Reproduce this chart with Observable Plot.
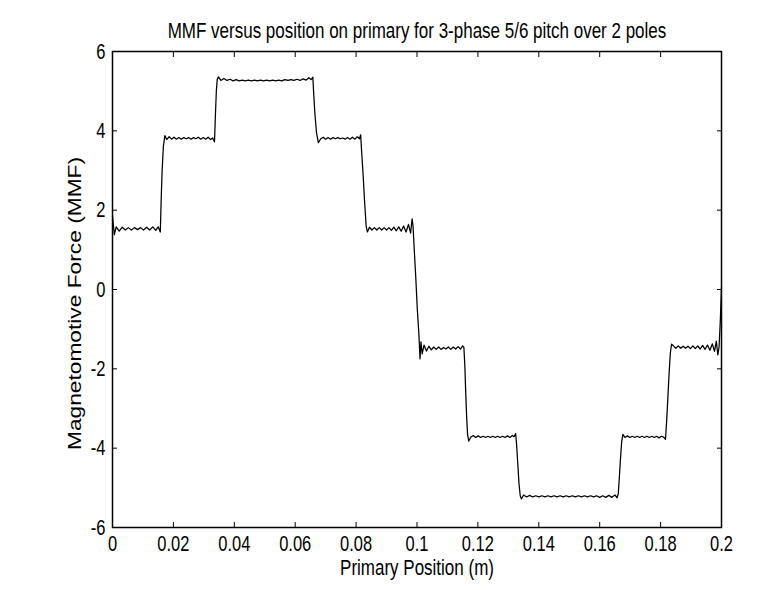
<!DOCTYPE html>
<html>
<head>
<meta charset="utf-8">
<script src="https://cdn.jsdelivr.net/npm/d3@7"></script>
<script src="https://cdn.jsdelivr.net/npm/@observablehq/plot@0.6"></script>
<style>
  html, body { margin: 0; padding: 0; background: #fff; }
  #chart { width: 778px; height: 590px; }
</style>
</head>
<body>
<div id="chart"></div>
<script>
const chartTitle = "MMF versus position on primary for 3-phase 5/6 pitch over 2 poles";
const xLabel = "Primary Position (m)";
const yLabel = "Magnetomotive Force (MMF)";

const xTicks = [0, 0.02, 0.04, 0.06, 0.08, 0.1, 0.12, 0.14, 0.16, 0.18, 0.2];
const yTicks = [-6, -4, -2, 0, 2, 4, 6];

// [position (m), MMF]
const mmfTrace = [
  [0,1.85],[0.0006,1.38],[0.0012,1.58],[0.0022,1.47],[0.0032,1.57],[0.0042,1.5],[0.0052,1.56],[0.0062,1.5],[0.0072,1.56],[0.0082,1.51],
  [0.0092,1.56],[0.0102,1.5],[0.0112,1.57],[0.0122,1.5],[0.0132,1.58],[0.0142,1.49],[0.0150,1.58],[0.0157,1.45],
  [0.0160,2.3],[0.0163,3.0],[0.0167,3.6],[0.0172,3.88],
  [0.0178,3.78],[0.0186,3.85],[0.0194,3.79],[0.0202,3.84],[0.0210,3.79],[0.0218,3.83],[0.0226,3.79],[0.0234,3.83],[0.0242,3.8],[0.0250,3.83],
  [0.0258,3.79],[0.0266,3.83],[0.0274,3.8],[0.0282,3.84],[0.0290,3.79],[0.0298,3.83],[0.0306,3.79],[0.0314,3.84],[0.0322,3.78],[0.0329,3.82],[0.0335,3.72],
  [0.0338,4.4],[0.0341,5.0],[0.0344,5.3],[0.0348,5.36],
  [0.0356,5.27],[0.0366,5.32],[0.0376,5.27],[0.0386,5.3],[0.0396,5.26],[0.0406,5.29],[0.0416,5.26],[0.0426,5.28],[0.0436,5.26],[0.0446,5.28],
  [0.0456,5.26],[0.0466,5.28],[0.0476,5.26],[0.0486,5.28],[0.0496,5.26],[0.0506,5.28],[0.0516,5.26],[0.0526,5.28],[0.0536,5.26],[0.0546,5.28],
  [0.0556,5.26],[0.0566,5.29],[0.0576,5.27],[0.0586,5.29],[0.0596,5.27],[0.0606,5.3],[0.0616,5.27],[0.0626,5.31],[0.0636,5.28],[0.0645,5.34],
  [0.0652,5.29],[0.0658,5.35],
  [0.0661,4.9],[0.0665,4.4],[0.0670,3.95],[0.0676,3.7],
  [0.0684,3.8],[0.0692,3.84],[0.0700,3.79],[0.0708,3.83],[0.0716,3.79],[0.0724,3.83],[0.0732,3.8],[0.0740,3.83],[0.0748,3.8],[0.0756,3.82],
  [0.0764,3.79],[0.0772,3.83],[0.0780,3.79],[0.0788,3.84],[0.0796,3.79],[0.0804,3.85],[0.0811,3.8],[0.0815,3.9],
  [0.0818,3.5],[0.0823,2.9],[0.0828,2.2],[0.0833,1.6],[0.0837,1.45],
  [0.0844,1.57],[0.0852,1.5],[0.0860,1.56],[0.0868,1.5],[0.0876,1.56],[0.0884,1.5],[0.0892,1.56],[0.0900,1.5],[0.0908,1.56],[0.0916,1.49],
  [0.0924,1.57],[0.0932,1.48],[0.0940,1.58],[0.0948,1.47],[0.0956,1.6],[0.0964,1.45],[0.0972,1.64],[0.0979,1.42],[0.0984,1.78],[0.0987,1.6],
  [0.0991,1.0],[0.0996,0.3],[0.1001,-0.5],[0.1006,-1.1],[0.1010,-1.75],
  [0.1013,-1.32],[0.1017,-1.62],[0.1023,-1.4],[0.1031,-1.55],[0.1039,-1.43],[0.1047,-1.52],[0.1055,-1.45],[0.1063,-1.51],[0.1071,-1.45],[0.1079,-1.51],
  [0.1087,-1.46],[0.1095,-1.5],[0.1103,-1.45],[0.1111,-1.51],[0.1119,-1.45],[0.1127,-1.5],[0.1135,-1.44],[0.1143,-1.5],[0.1150,-1.42],[0.1154,-1.46],
  [0.1157,-1.9],[0.1160,-2.6],[0.1163,-3.2],[0.1166,-3.65],[0.1170,-3.82],
  [0.1177,-3.72],[0.1185,-3.68],[0.1193,-3.73],[0.1201,-3.69],[0.1209,-3.73],[0.1217,-3.7],[0.1225,-3.73],[0.1233,-3.7],[0.1241,-3.73],[0.1249,-3.7],
  [0.1257,-3.73],[0.1265,-3.7],[0.1273,-3.73],[0.1281,-3.7],[0.1289,-3.73],[0.1297,-3.69],[0.1305,-3.73],[0.1313,-3.68],[0.1319,-3.71],[0.1324,-3.63],
  [0.1327,-3.9],[0.1331,-4.4],[0.1335,-4.9],[0.1339,-5.2],[0.1343,-5.28],
  [0.1350,-5.18],[0.1360,-5.23],[0.1370,-5.19],[0.1380,-5.23],[0.1390,-5.2],[0.1400,-5.23],[0.1410,-5.2],[0.1420,-5.23],[0.1430,-5.2],[0.1440,-5.23],
  [0.1450,-5.2],[0.1460,-5.23],[0.1470,-5.2],[0.1480,-5.23],[0.1490,-5.2],[0.1500,-5.23],[0.1510,-5.2],[0.1520,-5.23],[0.1530,-5.2],[0.1540,-5.23],
  [0.1550,-5.2],[0.1560,-5.23],[0.1570,-5.2],[0.1580,-5.23],[0.1590,-5.2],[0.1600,-5.24],[0.1610,-5.2],[0.1620,-5.24],[0.1630,-5.19],[0.1640,-5.24],
  [0.1650,-5.18],[0.1657,-5.25],[0.1661,-5.15],
  [0.1664,-4.8],[0.1668,-4.3],[0.1672,-3.85],[0.1676,-3.65],
  [0.1683,-3.73],[0.1691,-3.69],[0.1699,-3.73],[0.1707,-3.7],[0.1715,-3.73],[0.1723,-3.7],[0.1731,-3.73],[0.1739,-3.7],[0.1747,-3.73],[0.1755,-3.7],
  [0.1763,-3.73],[0.1771,-3.7],[0.1779,-3.73],[0.1787,-3.7],[0.1795,-3.74],[0.1803,-3.7],[0.1810,-3.72],[0.1816,-3.78],
  [0.1820,-3.3],[0.1824,-2.7],[0.1828,-2.1],[0.1832,-1.6],[0.1836,-1.38],
  [0.1842,-1.42],[0.1850,-1.48],[0.1858,-1.42],[0.1866,-1.48],[0.1874,-1.43],[0.1882,-1.48],[0.1890,-1.43],[0.1898,-1.49],[0.1906,-1.42],[0.1914,-1.49],
  [0.1922,-1.42],[0.1930,-1.5],[0.1938,-1.41],[0.1946,-1.51],[0.1954,-1.4],[0.1962,-1.53],[0.1970,-1.37],[0.1977,-1.56],[0.1983,-1.3],[0.1988,-1.65],
  [0.1992,-1.45],[0.1996,-0.8],[0.2,0.05]
];

const font = '"Liberation Sans", Arial, Helvetica, sans-serif';
const stretch = 1.3; // the scanned figure's text is taller than it is wide

const data = mmfTrace.map(([x, y]) => ({x, y}));

const chart = Plot.plot({
  width: 778,
  height: 590,
  marginLeft: 112,
  marginRight: 57,
  marginTop: 51,
  marginBottom: 63,
  style: {fontFamily: font, fontSize: "16.5px", background: "#fff", color: "#000", overflow: "visible"},
  x: {domain: [0, 0.2]},
  y: {domain: [-6, 6]},
  marks: [
    Plot.axisX(xTicks, {anchor: "bottom", tickSize: -5, fill: "none", label: null}),
    Plot.axisX(xTicks, {anchor: "top", tickSize: -5, fill: "none", label: null}),
    Plot.axisY(yTicks, {anchor: "left", tickSize: -5, fill: "none", label: null}),
    Plot.axisY(yTicks, {anchor: "right", tickSize: -5, fill: "none", label: null}),
    Plot.axisX(xTicks, {anchor: "bottom", tickSize: 0, tickPadding: 10, tickFormat: d3.format("~g"), label: null}),
    Plot.axisY(yTicks, {anchor: "left", tickSize: 0, tickPadding: 7, tickFormat: d => String(d), label: null}),
    Plot.line(data, {x: "x", y: "y", stroke: "#000", strokeWidth: 1.25}),
    Plot.frame({stroke: "#000", strokeWidth: 1.5}),
    Plot.text([chartTitle], {frameAnchor: "top", textAnchor: "middle", lineAnchor: "middle", dy: -21, fontSize: 17}),
    Plot.text([xLabel], {frameAnchor: "bottom", textAnchor: "middle", lineAnchor: "middle", dy: 40, fontSize: 17}),
    Plot.text([yLabel], {frameAnchor: "left", textAnchor: "middle", lineAnchor: "middle",
      dx: -37, dy: 14, rotate: -90, fontSize: 17.5})
  ]
});
document.getElementById("chart").appendChild(chart);

// stretch each text along the page's vertical, about its own centre
chart.querySelectorAll("text").forEach(t => {
  const b = t.getBBox();
  const tr = t.getAttribute("transform") || "";
  const cx = b.x + b.width / 2, cy = b.y + b.height / 2;
  const extra = t.textContent === yLabel
    ? `translate(${cx},0) scale(${stretch},1) translate(${-cx},0)`
    : `translate(0,${cy}) scale(1,${stretch}) translate(0,${-cy})`;
  t.setAttribute("transform", (tr + " " + extra).trim());
});
</script>
</body>
</html>
